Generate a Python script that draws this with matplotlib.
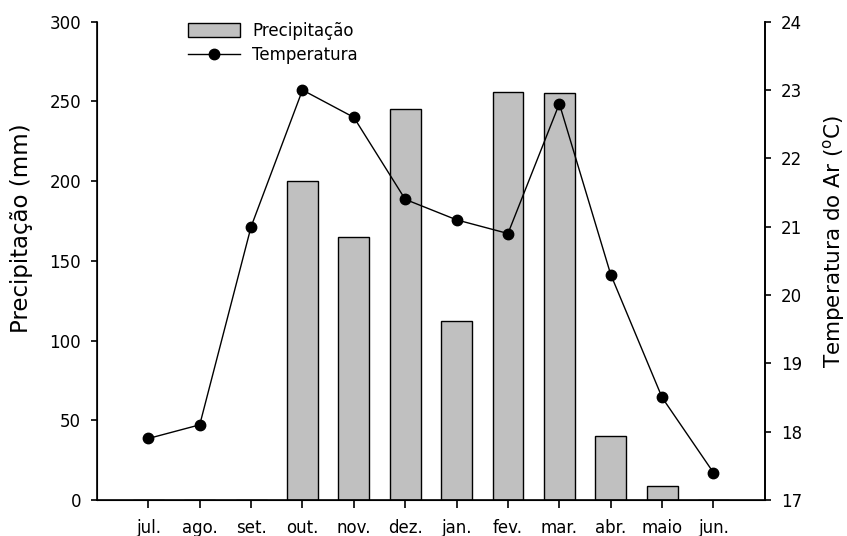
import matplotlib
matplotlib.use("Agg")
import matplotlib.pyplot as plt
from matplotlib.patches import Patch
from matplotlib.lines import Line2D

plt.rcParams['font.family'] = ['DejaVu Sans']

months = ['jul.', 'ago.', 'set.', 'out.', 'nov.', 'dez.', 'jan.', 'fev.', 'mar.', 'abr.', 'maio', 'jun.']
precip = [0, 0, 0, 200, 165, 245, 112, 256, 255, 40, 9, 0]
temp = [17.9, 18.1, 21.0, 23.0, 22.6, 21.4, 21.1, 20.9, 22.8, 20.3, 18.5, 17.4]
left_ticks = [0, 50, 100, 150, 200, 250, 300]
right_ticks = [17, 18, 19, 20, 21, 22, 23, 24]

fig = plt.figure(figsize=(8.47, 5.36), dpi=100)
ax = fig.add_axes([0.1145, 0.0672, 0.7885, 0.8923])
x = list(range(len(months)))
ax.bar(x, precip, width=0.6, color='#c0c0c0', edgecolor='black', linewidth=1.0, zorder=2)
ax.set_xlim(-1, 12)
ax.set_ylim(0, 300)
ax.set_yticks(left_ticks)
ax.set_xticks(x)
ax.set_xticklabels(months)
ax.set_ylabel('Precipitação (mm)', fontsize=16.5)
ax.yaxis.set_label_coords(-0.0958, 0.568)
ax.spines['top'].set_visible(False)
for s in ['left', 'bottom', 'right']:
    ax.spines[s].set_linewidth(1.2)
ax.tick_params(axis='y', direction='out', length=4.5, width=1.2, labelsize=12, pad=7)
ax.tick_params(axis='x', direction='out', length=5.5, width=1.2, labelsize=12, pad=8)

ax2 = ax.twinx()
ax2.plot(x, temp, color='black', linewidth=1.0, marker='o', markersize=7.5, zorder=3)
ax2.set_ylim(17, 24)
ax2.set_yticks(right_ticks)
ax2.set_ylabel(r'Temperatura do Ar ($^{\mathrm{o}}$C)', fontsize=15.5)
ax2.yaxis.set_label_coords(1.084, 0.54)
ax2.spines['top'].set_visible(False)
ax2.spines['right'].set_linewidth(1.2)
ax2.tick_params(direction='out', length=4.5, width=1.2, labelsize=12, pad=7)

handles = [Patch(facecolor='#c0c0c0', edgecolor='black', linewidth=1.0),
           Line2D([0], [0], color='black', linewidth=1.0, marker='o', markersize=7.5)]
ax.legend(handles, ['Precipitação', 'Temperatura'], loc='upper left',
          bbox_to_anchor=(0.124, 1.0175), frameon=False, fontsize=12,
          handlelength=3.1, handleheight=0.9, handletextpad=0.75, labelspacing=0.4,
          borderpad=0)

fig.savefig('out.png', dpi=100)
